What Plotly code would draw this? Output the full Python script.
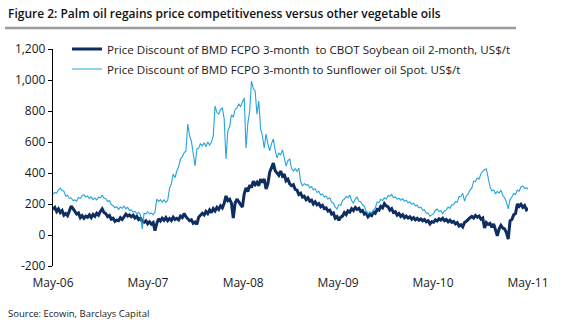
import pandas as pd
import plotly.graph_objects as go

# Weekly observations, May 2006 - May 2011 (US$/t)
weeks = pd.date_range("2006-05-01", periods=262, freq="7D")

soybean_discount = [
    165, 178, 152, 168, 145, 158, 128, 138, 125, 160,
    187, 170, 152, 135, 142, 112, 125, 108, 122, 115,
    130, 112, 132, 120, 140, 128, 152, 168, 145, 138,
    118, 126, 102, 108, 88, 96, 92, 112, 100, 122,
    135, 122, 130, 118, 128, 110, 120, 100, 108, 88,
    82, 92, 72, 85, 70, 80, 28, 75, 105, 90,
    108, 95, 112, 92, 106, 94, 115, 100, 108, 98,
    122, 112, 138, 118, 108, 92, 98, 76, 84, 68,
    115, 128, 140, 130, 152, 138, 162, 145, 170, 155,
    178, 165, 188, 175, 205, 252, 222, 230, 205, 110,
    205, 232, 212, 198, 180, 265, 303, 280, 322, 305,
    348, 325, 340, 318, 360, 338, 361, 297, 330, 405,
    430, 464, 415, 400, 385, 413, 380, 392, 350, 360,
    330, 318, 325, 295, 290, 262, 270, 245, 250, 228,
    240, 218, 225, 200, 214, 195, 203, 182, 192, 170,
    175, 155, 160, 135, 142, 108, 118, 95, 115, 122,
    145, 132, 155, 148, 170, 158, 178, 165, 172, 152,
    158, 135, 142, 118, 132, 125, 148, 140, 165, 160,
    185, 175, 202, 188, 182, 160, 170, 145, 150, 128,
    138, 120, 130, 112, 122, 110, 118, 102, 112, 98,
    108, 95, 104, 92, 100, 85, 92, 72, 86, 82,
    98, 90, 105, 96, 108, 92, 100, 85, 96, 82,
    88, 72, 80, 58, 66, 52, 80, 88, 102, 112,
    120, 110, 126, 115, 122, 102, 110, 45, 80, 68,
    75, 50, 72, 35, -6, 40, 62, 45, 39, 15,
    -26, 92, 100, 130, 138, 200, 185, 198, 178, 190,
    162, 172,
]

sunflower_discount = [
    262, 275, 270, 292, 303, 288, 282, 250, 256, 236,
    240, 222, 226, 218, 242, 236, 252, 260, 245, 252,
    235, 246, 228, 238, 226, 244, 240, 256, 238, 234,
    216, 222, 195, 190, 176, 182, 165, 180, 172, 186,
    170, 178, 158, 162, 148, 152, 138, 146, 132, 39,
    140, 135, 150, 136, 142, 130, 146, 232, 215, 228,
    212, 226, 210, 224, 303, 330, 393, 370, 413, 440,
    490, 505, 530, 542, 716, 640, 606, 530, 445, 555,
    560, 590, 575, 595, 570, 600, 580, 598, 640, 832,
    790, 780, 810, 819, 750, 490, 670, 700, 775, 760,
    810, 820, 845, 830, 860, 884, 561, 720, 800, 993,
    945, 929, 780, 864, 684, 640, 561, 651, 590, 542,
    590, 619, 548, 497, 530, 515, 550, 490, 445, 480,
    490, 430, 413, 428, 410, 432, 345, 316, 332, 322,
    325, 305, 312, 290, 298, 275, 282, 258, 265, 245,
    252, 232, 240, 212, 205, 180, 168, 195, 192, 222,
    232, 250, 240, 258, 222, 206, 232, 245, 218, 215,
    195, 185, 152, 135, 150, 142, 162, 175, 212, 210,
    230, 222, 240, 232, 255, 250, 262, 240, 245, 230,
    238, 225, 235, 218, 225, 208, 215, 198, 205, 188,
    192, 175, 180, 160, 162, 140, 142, 122, 130, 138,
    160, 168, 152, 158, 138, 155, 162, 180, 172, 195,
    195, 215, 212, 248, 250, 268, 219, 252, 265, 290,
    302, 348, 345, 368, 360, 395, 410, 422, 426, 355,
    310, 285, 290, 265, 282, 270, 290, 255, 240, 212,
    168, 230, 245, 268, 262, 290, 282, 310, 316, 300,
    305, 295,
]

series_names = [
    "Price Discount of BMD FCPO 3-month \u00a0to CBOT Soybean oil 2-month, US$/t",
    "Price Discount of BMD FCPO 3-month to Sunflower oil Spot. US$/t",
]

x_tick_vals = ["2006-05-01", "2007-05-01", "2008-05-01", "2009-05-01", "2010-05-01", "2011-05-01"]
x_tick_text = ["May-06", "May-07", "May-08", "May-09", "May-10", "May-11"]
y_tick_vals = [-200, 0, 200, 400, 600, 800, 1000, 1200]
y_tick_text = ["-200", "0", "200", "400", "600", "800", "1,000", "1,200"]

DARK = "#0e2d60"
LIGHT = "#24a4de"
FONT = "Open Sans"

W, H = 564, 324
ML, MR, MT, MB = 53, 36, 49, 58
PW, PH = W - ML - MR, H - MT - MB
Y_MIN, Y_MAX = -200, 1200


def px_x(x):
    return (x - ML) / PW


def px_y(y):
    return (H - MB - y) / PH


fig = go.Figure()
fig.add_trace(go.Scatter(
    x=weeks, y=soybean_discount, mode="lines", name=series_names[0],
    line=dict(color=DARK, width=3), legend="legend",
))
fig.add_trace(go.Scatter(
    x=weeks, y=sunflower_discount, mode="lines", name=series_names[1],
    line=dict(color=LIGHT, width=1.1), legend="legend2",
))

legend_style = dict(
    xanchor="left", yanchor="middle",
    bgcolor="rgba(255,255,255,0)", font=dict(size=11.6, color="#1a1a1a"),
)

fig.update_layout(
    width=W, height=H,
    margin=dict(l=ML, r=MR, t=MT, b=MB),
    paper_bgcolor="white", plot_bgcolor="white",
    font=dict(family=FONT, size=12, color="#1a1a1a"),
    showlegend=True,
    legend=dict(x=px_x(67), y=px_y(49), **legend_style),
    legend2=dict(x=px_x(67), y=px_y(69), **legend_style),
    xaxis=dict(
        type="date", range=["2006-05-01", "2011-05-01"],
        tickvals=x_tick_vals, ticktext=x_tick_text,
        showgrid=False, zeroline=False, showline=False,
        ticks="outside", ticklen=6, tickcolor="rgba(0,0,0,0)",
        tickfont=dict(size=12),
    ),
    xaxis2=dict(
        type="date", range=["2006-05-01", "2011-05-01"],
        overlaying="x", anchor="free", side="bottom",
        position=(0 - Y_MIN) / (Y_MAX - Y_MIN),
        tickvals=x_tick_vals, showticklabels=False,
        showgrid=False, zeroline=False,
        showline=True, linecolor="black", linewidth=1.3,
        ticks="outside", ticklen=5, tickwidth=1.2, tickcolor="black",
    ),
    yaxis=dict(
        range=[Y_MIN, Y_MAX], tickvals=y_tick_vals, ticktext=y_tick_text,
        showgrid=False, zeroline=False,
        showline=True, linecolor="black", linewidth=1.3,
        ticks="outside", ticklen=4, tickwidth=1.2, tickcolor="black",
        tickfont=dict(size=12),
    ),
)

# Title, rule under it, and source note
fig.add_annotation(
    text="Figure 2: Palm oil regains price competitiveness versus other vegetable oils",
    xref="paper", yref="paper", x=px_x(6), y=px_y(14),
    xanchor="left", yanchor="middle", showarrow=False,
    font=dict(family=FONT, size=12, color="#111111", weight=600),
)
fig.add_shape(
    type="line", xref="paper", yref="paper",
    x0=px_x(5), x1=px_x(516), y0=px_y(28), y1=px_y(28),
    line=dict(color="#9b9b9b", width=2.5),
)
fig.add_annotation(
    text="Source: Ecowin, Barclays Capital",
    xref="paper", yref="paper", x=px_x(6), y=px_y(313),
    xanchor="left", yanchor="middle", showarrow=False,
    font=dict(family=FONT, size=9.5, color="#222222"),
)

fig.write_html("out.html")
